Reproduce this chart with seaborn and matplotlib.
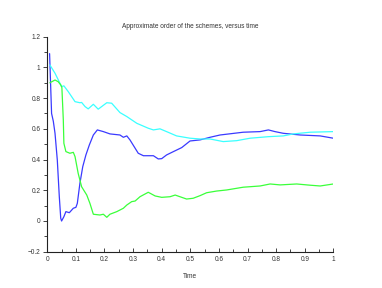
import seaborn as sns
import matplotlib.pyplot as plt
from matplotlib.ticker import MultipleLocator
import pandas as pd

blue_t = [0.008, 0.015, 0.021, 0.027, 0.035, 0.042, 0.047, 0.05, 0.058, 0.065, 0.077,
          0.091, 0.1, 0.105, 0.114, 0.124, 0.135, 0.147, 0.161, 0.175, 0.196, 0.219,
          0.254, 0.266, 0.278, 0.289, 0.307, 0.318, 0.336, 0.371, 0.388, 0.4, 0.417,
          0.44, 0.47, 0.499, 0.534, 0.569, 0.604, 0.685, 0.744, 0.773, 0.796, 0.825,
          0.884, 0.954, 1.0]
blue_v = [1.09, 0.70, 0.65, 0.571, 0.397, 0.158, 0.018, 0.0, 0.028, 0.061, 0.054,
          0.083, 0.089, 0.115, 0.245, 0.354, 0.43, 0.495, 0.56, 0.593, 0.582, 0.567,
          0.56, 0.545, 0.554, 0.528, 0.474, 0.441, 0.425, 0.425, 0.404, 0.406, 0.43,
          0.451, 0.478, 0.521, 0.528, 0.545, 0.56, 0.578, 0.582, 0.593, 0.582, 0.571,
          0.56, 0.554, 0.539]

cyan_t = [0.009, 0.027, 0.05, 0.058, 0.073, 0.097, 0.114, 0.12, 0.132, 0.143, 0.161,
          0.178, 0.208, 0.225, 0.254, 0.278, 0.313, 0.353, 0.371, 0.394, 0.417, 0.452,
          0.499, 0.534, 0.569, 0.615, 0.662, 0.709, 0.773, 0.825, 0.86, 0.919, 1.0]
cyan_v = [1.016, 0.962, 0.875, 0.88, 0.843, 0.777, 0.77, 0.772, 0.745, 0.73, 0.76,
          0.728, 0.77, 0.767, 0.706, 0.68, 0.636, 0.604, 0.593, 0.6, 0.582, 0.554,
          0.539, 0.534, 0.534, 0.517, 0.523, 0.539, 0.549, 0.554, 0.567, 0.578, 0.582]

green_t = [0.009, 0.027, 0.038, 0.047, 0.051, 0.056, 0.058, 0.065, 0.079, 0.091, 0.097,
           0.108, 0.12, 0.138, 0.149, 0.161, 0.184, 0.196, 0.208, 0.219, 0.243, 0.266,
           0.278, 0.295, 0.307, 0.324, 0.353, 0.377, 0.4, 0.429, 0.447, 0.47, 0.487,
           0.51, 0.534, 0.557, 0.592, 0.627, 0.685, 0.744, 0.779, 0.814, 0.872, 0.919,
           0.954, 1.0]
green_v = [0.90, 0.918, 0.907, 0.886, 0.869, 0.658, 0.506, 0.452, 0.441, 0.447, 0.419,
           0.31, 0.223, 0.169, 0.115, 0.044, 0.039, 0.044, 0.024, 0.044, 0.061, 0.083,
           0.104, 0.126, 0.13, 0.158, 0.187, 0.163, 0.154, 0.158, 0.169, 0.154, 0.143,
           0.148, 0.165, 0.184, 0.195, 0.202, 0.22, 0.228, 0.241, 0.235, 0.241, 0.233,
           0.228, 0.241]

sns.set_style("ticks")
plt.rcParams['font.family'] = ['Liberation Sans', 'DejaVu Sans']
FS = 4.7
TXT = '#333333'

fig = plt.figure(figsize=(3.82, 2.88), dpi=100)
ax = fig.add_axes([0.1238, 0.126, 0.7488, 0.7466])

for t, v, c in [(blue_t, blue_v, '#3a3aff'), (cyan_t, cyan_v, '#3affff'),
                (green_t, green_v, '#3aff3a')]:
    df = pd.DataFrame({'t': t, 'v': v})
    sns.lineplot(data=df, x='t', y='v', color=c, linewidth=0.9, errorbar=None,
                 sort=False, ax=ax)

ax.set_xlim(0, 1)
ax.set_ylim(-0.2, 1.2)
ax.xaxis.set_major_locator(MultipleLocator(0.1))
ax.xaxis.set_minor_locator(MultipleLocator(0.05))
ax.yaxis.set_major_locator(MultipleLocator(0.2))
ax.yaxis.set_minor_locator(MultipleLocator(0.1))
ax.set_xticklabels([f"{x:g}" for x in ax.get_xticks()])
ax.set_yticklabels([f"{y:g}".replace('-', '\u2212') for y in ax.get_yticks()])

sns.despine(ax=ax)
for s in ['left', 'bottom']:
    ax.spines[s].set_linewidth(0.8)
    ax.spines[s].set_color('#222222')
ax.tick_params(axis='x', which='both', direction='in', colors='#222222',
               labelcolor=TXT, labelsize=FS, width=0.6, pad=3)
ax.tick_params(axis='y', which='both', direction='out', colors='#222222',
               labelcolor=TXT, labelsize=FS, width=0.6, pad=2)
ax.tick_params(which='major', length=3)
ax.tick_params(which='minor', length=2)

ax.set_xlabel('Time', fontsize=FS, color=TXT, labelpad=7)
ax.set_ylabel('')
ax.set_title('Approximate order of the schemes, versus time', fontsize=FS,
             color=TXT, pad=6)

fig.savefig('out.png', dpi=100)
